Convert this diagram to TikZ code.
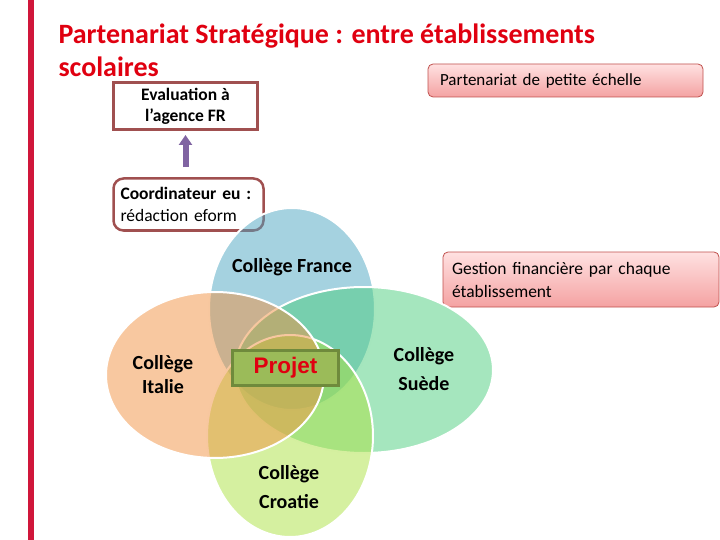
\documentclass[tikz,border=0pt]{standalone}
\usepackage{fontspec}
\setmainfont{Carlito}
\newfontfamily\arialfont{Liberation Sans}
\usepackage{xcolor}
\definecolor{e00010}{HTML}{E00010}
\definecolor{d0163a}{HTML}{D0163A}
\definecolor{a05050}{HTML}{A05050}
\definecolor{c0504d}{HTML}{C0504D}
\definecolor{ffe1e1}{HTML}{FFE1E1}
\definecolor{f4a2a2}{HTML}{F4A2A2}
\definecolor{8064a2}{HTML}{8064A2}
\definecolor{4ba5c1}{HTML}{4BA5C1}
\definecolor{4bcd7d}{HTML}{4BCD7D}
\definecolor{abe141}{HTML}{ABE141}
\definecolor{f19141}{HTML}{F19141}
\definecolor{9bbb59}{HTML}{9BBB59}
\definecolor{6f8a3c}{HTML}{6F8A3C}
\usepackage{tikz}
\usetikzlibrary{arrows.meta}

\begin{document}
\begin{tikzpicture}[x=1pt, y=-1pt,
    venn/.style={draw=white, line width=2pt, fill opacity=0.5},
    framebox/.style={draw=a05050, line width=3pt, fill=white},
    pinkbox/.style={draw=c0504d, line width=0.8pt, rounded corners=5pt,
      top color=ffe1e1, bottom color=f4a2a2, align=left, inner ysep=0pt},
    college/.style={font=\bfseries\fontsize{20}{29}\selectfont, align=center}]
    \useasboundingbox (0,0) rectangle (720,540);
    \fill[d0163a] (28,0) rectangle (34,540);

    \node (title) at (55,44) [anchor=base west, text=e00010, font=\bfseries\fontsize{28}{33}\selectfont] {Partenariat Stratégique : entre établissements};
    \node (subtitle) at (55,77) [anchor=base west, text=e00010, font=\bfseries\fontsize{28}{33}\selectfont] {scolaires};

    \node (eval) at (185.5,106) [framebox, minimum width=144pt, minimum height=47pt, align=center, font=\bfseries\fontsize{17.5}{21}\selectfont] {Evaluation à\\l’agence FR};
    \node (coord) at (188.5,204.5) [framebox, rounded corners=10pt, line width=2.5pt, text width=136pt, inner xsep=7pt, minimum height=52pt, align=left, font=\fontsize{17.5}{22}\selectfont] {\textbf{Coordinateur~eu~:}\\rédaction eform};
    \draw[8064a2, line width=6pt, -{Triangle[width=13pt,length=10pt]}, shorten <=10pt, shorten >=4pt] (coord.north -| eval.south) -- (eval.south);

    \node (petite) at (565.5,80.5) [pinkbox, minimum height=33pt, text width=251pt, inner xsep=12pt, font=\fontsize{17}{20}\selectfont] {Partenariat de petite échelle};
    \node (gestion) at (581,279.5) [pinkbox, minimum height=55pt, text width=258pt, inner xsep=9pt, font=\fontsize{17.5}{23}\selectfont] {Gestion financière par chaque\\établissement};

    % venn
    \path[venn, fill=4ba5c1] (292,309) ellipse [x radius=83pt, y radius=101pt];
    \path[venn, fill=4bcd7d] (364,370) ellipse [x radius=129pt, y radius=83pt];
    \path[venn, fill=abe141] (290,436) ellipse [x radius=83pt, y radius=101pt];
    \path[venn, fill=f19141] (215,375) ellipse [x radius=109pt, y radius=83pt];

    \node (france) at (292,267) [college] {Collège France};
    \node (italie) at (163,375) [college, font=\bfseries\fontsize{20}{24}\selectfont] {Collège\\Italie};
    \node (suede) at (424,369.5) [college] {Collège\\Suède};
    \node (croatie) at (289,487) [college] {Collège\\Croatie};

    \node (projet) at (285.5,368) [draw=6f8a3c, line width=3pt, fill=9bbb59, minimum width=106pt, minimum height=35pt, text=e00010, font=\arialfont\bfseries\fontsize{22.5}{27}\selectfont] {Projet};
\end{tikzpicture}
\end{document}
